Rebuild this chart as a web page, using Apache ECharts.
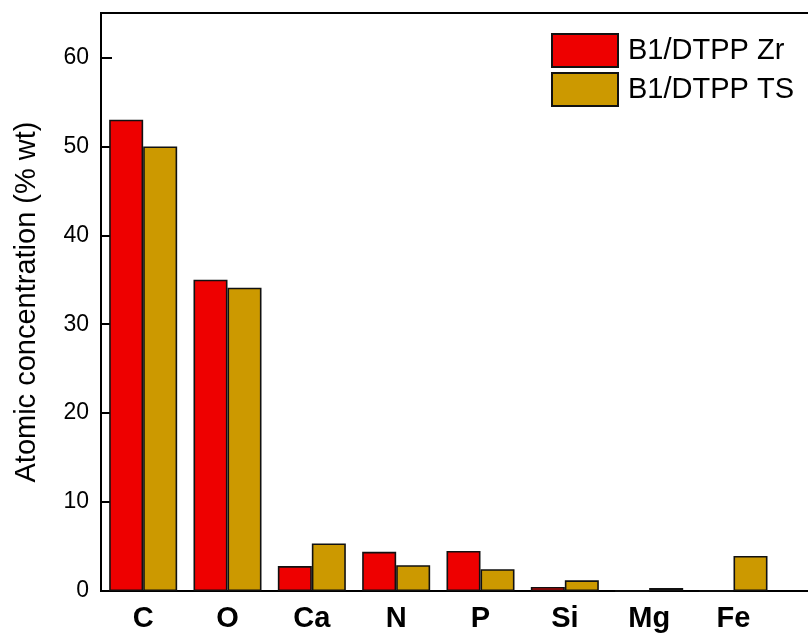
<!DOCTYPE html>
<html>
<head>
<meta charset="utf-8">
<script src="https://cdn.jsdelivr.net/npm/echarts@6/dist/echarts.min.js"></script>
<style>
  html, body { margin: 0; padding: 0; background: #ffffff; }
  #chart { width: 808px; height: 636px; }
</style>
</head>
<body>
<div id="chart"></div>
<script>
// Elements measured
const categories = ['C', 'O', 'Ca', 'N', 'P', 'Si', 'Mg', 'Fe'];
// Atomic concentration (% wt) per element
const zrValues = [53.0, 35.0, 2.8, 4.4, 4.5, 0.45, 0, 0];
const tsValues = [50.0, 34.1, 5.35, 2.9, 2.45, 1.2, 0.35, 3.95];
const seriesNames = ['B1/DTPP Zr', 'B1/DTPP TS'];
const yTicks = [0, 10, 20, 30, 40, 50, 60];

// an empty trailing slot keeps the frame running past the last element
const axisSlots = categories.concat(['']);

const FONT = '"Liberation Sans", Arial, sans-serif';

const chart = echarts.init(document.getElementById('chart'), null, { renderer: 'canvas' });
chart.setOption({
  backgroundColor: '#ffffff',
  animation: false,
  grid: {
    left: 101, top: 13, right: -52, bottom: 45,
    outerBoundsMode: 'none',
    show: true, borderColor: '#000', borderWidth: 2, backgroundColor: 'transparent'
  },
  legend: {
    orient: 'vertical',
    left: 551, top: 33,
    padding: 0,
    itemWidth: 66, itemHeight: 33, itemGap: 4,
    icon: 'rect',
    textStyle: { fontFamily: FONT, fontSize: 29, color: '#000', padding: [0, 0, 0, 5] },
    data: seriesNames
  },
  xAxis: {
    type: 'category',
    data: axisSlots,
    axisLine: { lineStyle: { color: '#000', width: 2 } },
    axisTick: { show: false },
    axisLabel: { fontFamily: FONT, fontSize: 29, fontWeight: 'bold', color: '#000', margin: 13, interval: 0 }
  },
  yAxis: {
    type: 'value',
    min: 0, max: 65, interval: 10,
    name: 'Atomic concentration (% wt)',
    nameLocation: 'middle',
    nameGap: 60,
    nameTextStyle: { fontFamily: FONT, fontSize: 29, color: '#000' },
    axisLine: { show: true, lineStyle: { color: '#000', width: 2 } },
    axisTick: { show: true, inside: true, length: 11, lineStyle: { color: '#000', width: 2 } },
    splitLine: { show: false },
    axisLabel: {
      fontFamily: FONT, fontSize: 23, color: '#000', margin: 12,
      showMaxLabel: false,
      formatter: v => (yTicks.indexOf(v) >= 0 ? String(v) : '')
    }
  },
  series: [
    {
      name: seriesNames[0], type: 'bar', data: zrValues,
      barWidth: 34, barGap: '0%',
      itemStyle: { color: '#ee0000', borderColor: '#111', borderWidth: 1.6 }
    },
    {
      name: seriesNames[1], type: 'bar', data: tsValues,
      barWidth: 34, barGap: '0%',
      itemStyle: { color: '#cc9900', borderColor: '#111', borderWidth: 1.6 }
    }
  ]
});
</script>
</body>
</html>
